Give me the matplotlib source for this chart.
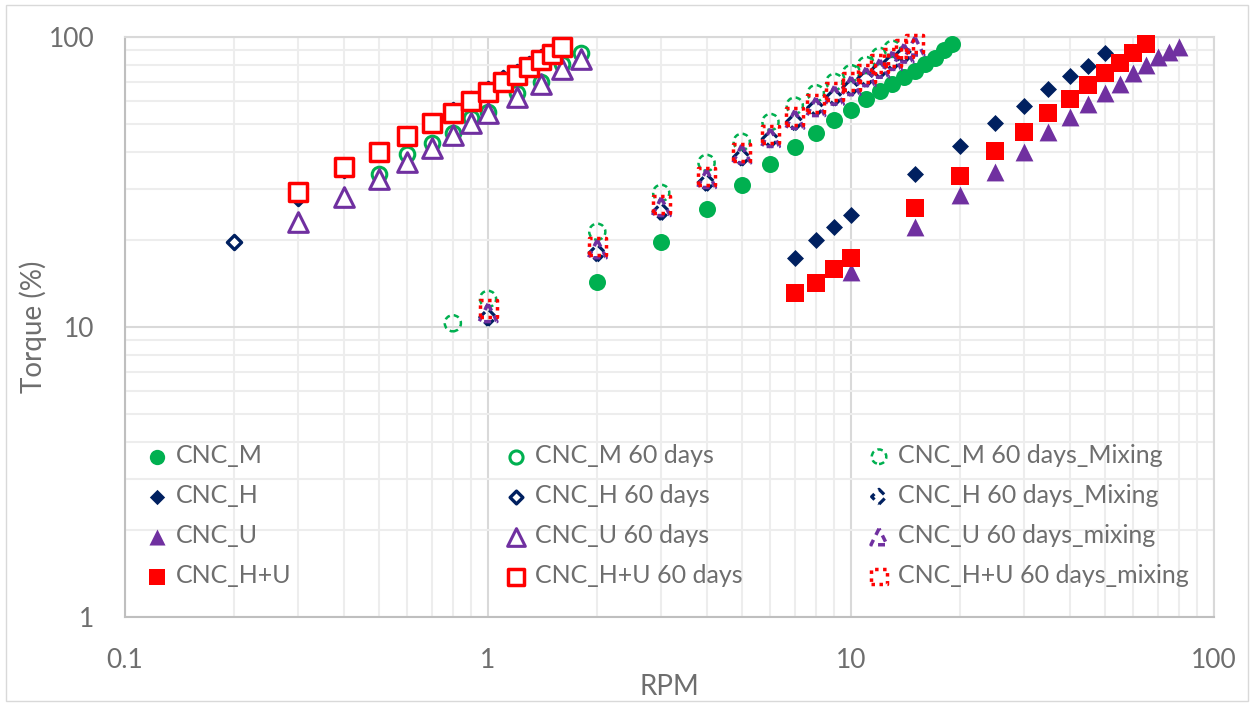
import matplotlib
matplotlib.use("Agg")
import matplotlib.pyplot as plt
from matplotlib.ticker import FixedLocator, FixedFormatter, LogLocator, NullFormatter
from matplotlib.patches import Rectangle

GREEN = "#00B050"
NAVY = "#002060"
PURPLE = "#7030A0"
RED = "#FF0000"
TEXT = "#6E6E6E"

# fresh samples
m_rpm = [2, 3, 4, 5, 6, 7, 8, 9, 10, 11, 12, 13, 14, 15, 16, 17, 18, 19]
m_torque = [14.3, 19.6, 25.5, 30.9, 36.5, 41.8, 46.7, 51.8, 56.0, 61.0, 65.1,
            68.9, 72.8, 76.3, 80.8, 84.7, 90.2, 94.6]

h_rpm = [7, 8, 9, 10, 15, 20, 25, 30, 35, 40, 45, 50]
h_torque = [17.3, 20.0, 22.1, 24.3, 33.7, 42.0, 50.5, 58.0, 66.0, 73.5, 79.5, 88.0]

u_rpm = [10, 15, 20, 25, 30, 35, 40, 45, 50, 55, 60, 65, 70, 75, 80]
u_torque = [15.5, 22.1, 28.5, 34.2, 40.1, 47.0, 53.0, 58.8, 64.1, 68.9, 75.2,
            80.0, 85.3, 88.8, 92.4]

hu_rpm = [7, 8, 9, 10, 15, 20, 25, 30, 35, 40, 45, 50, 55, 60, 65]
hu_torque = [13.1, 14.2, 15.8, 17.3, 25.7, 33.2, 40.4, 47.0, 54.7, 61.0, 68.2,
             75.2, 81.3, 88.0, 94.6]

# after 60 days of storage
m60_rpm = [0.5, 0.6, 0.7, 0.8, 0.9, 1.0, 1.2, 1.4, 1.6, 1.8]
m60_torque = [33.7, 39.5, 43.0, 46.7, 52.5, 55.0, 64.0, 70.0, 81.0, 88.0]

h60_rpm = [0.2, 0.3, 0.4, 0.5, 0.6, 0.7, 0.8, 0.9, 1.0, 1.1, 1.2, 1.3, 1.4, 1.5]
h60_torque = [19.6, 27.9, 34.8, 39.8, 45.0, 50.5, 56.0, 61.0, 66.0, 72.0, 76.0,
              81.0, 85.0, 89.0]

u60_rpm = [0.3, 0.4, 0.5, 0.6, 0.7, 0.8, 0.9, 1.0, 1.2, 1.4, 1.6, 1.8]
u60_torque = [23.0, 28.0, 32.4, 37.0, 41.4, 45.9, 50.5, 54.7, 62.0, 69.0, 77.6, 84.0]

hu60_rpm = [0.3, 0.4, 0.5, 0.6, 0.7, 0.8, 0.9, 1.0, 1.1, 1.2, 1.3, 1.4, 1.5, 1.6]
hu60_torque = [29.3, 35.6, 40.1, 45.6, 50.5, 54.7, 60.2, 64.6, 70.0, 74.0, 79.0,
               83.0, 87.4, 92.4]

# after 60 days, re-mixed
mmix_rpm = [0.8, 1, 2, 3, 4, 5, 6, 7, 8, 9, 10, 11, 12, 13]
mmix_torque = [10.3, 12.5, 21.3, 29.0, 36.8, 43.5, 50.9, 58.0, 64.0, 70.0, 75.0,
               80.0, 86.0, 91.0]

hmix_rpm = [1, 2, 3, 4, 5, 6, 7, 8, 9, 10, 11, 12, 13, 14]
hmix_torque = [10.8, 18.0, 25.0, 31.5, 38.5, 44.5, 51.0, 57.0, 62.0, 67.0, 72.0,
               77.0, 82.0, 87.0]

umix_rpm = [1, 2, 3, 4, 5, 6, 7, 8, 9, 10, 11, 12, 13, 14, 15]
umix_torque = [11.2, 18.6, 26.0, 32.5, 39.5, 45.0, 52.0, 57.5, 63.0, 68.0, 73.0,
               78.0, 83.0, 88.0, 93.0]

humix_rpm = [1, 2, 3, 4, 5, 6, 7, 8, 9, 10, 11, 12, 13, 14, 15]
humix_torque = [11.6, 19.0, 26.5, 33.0, 40.0, 46.0, 53.0, 59.0, 65.0, 70.0, 75.0,
                81.0, 85.0, 91.0, 95.0]

x_ticks = [0.1, 1, 10, 100]
x_tick_labels = ["0.1", "1", "10", "100"]
y_ticks = [1, 10, 100]
y_tick_labels = ["1", "10", "100"]

plt.rcParams.update({"font.family": ["Lato", "DejaVu Sans"]})

fig = plt.figure(figsize=(12.54, 7.07), dpi=100)
ax = fig.add_axes([0.0997, 0.1273, 0.8684, 0.8204])

fig.add_artist(Rectangle((0.005, 0.008), 0.99, 0.985, transform=fig.transFigure,
                         fill=False, edgecolor="#D9D9D9", linewidth=1.0))

ax.set_xscale("log")
ax.set_yscale("log")
ax.set_xlim(0.1, 100)
ax.set_ylim(1, 100)

series = [
    # label, x, y, marker, size, face, edge, lw, linestyle
    ("CNC_M", m_rpm, m_torque, "o", 150, GREEN, GREEN, 0, "solid"),
    ("CNC_H", h_rpm, h_torque, "D", 75, NAVY, NAVY, 0, "solid"),
    ("CNC_U", u_rpm, u_torque, "^", 165, PURPLE, PURPLE, 0, "solid"),
    ("CNC_H+U", hu_rpm, hu_torque, "s", 150, RED, RED, 0, "solid"),
    ("CNC_M 60 days", m60_rpm, m60_torque, "o", 110, "white", GREEN, 2.2, "solid"),
    ("CNC_H 60 days", h60_rpm, h60_torque, "D", 52, "white", NAVY, 2.4, "solid"),
    ("CNC_U 60 days", u60_rpm, u60_torque, "^", 200, "white", PURPLE, 2.2, "solid"),
    ("CNC_H+U 60 days", hu60_rpm, hu60_torque, "s", 175, "white", RED, 2.5, "solid"),
    ("CNC_M 60 days_Mixing", mmix_rpm, mmix_torque, "o", 135, "none", GREEN, 1.8,
     (0, (2.2, 1.6))),
    ("CNC_H 60 days_Mixing", hmix_rpm, hmix_torque, "D", 70, "none", NAVY, 2.3,
     (0, (2.5, 1.8))),
    ("CNC_U 60 days_mixing", umix_rpm, umix_torque, "^", 165, "none", PURPLE, 2.5,
     (0, (2.0, 1.6))),
    ("CNC_H+U 60 days_mixing", humix_rpm, humix_torque, "s", 150, "none", RED, 2.5,
     (0, (1.0, 1.3))),
]

handles = []
for z, (label, xs, ys, mk, size, face, edge, lw, ls) in enumerate(series):
    h = ax.scatter(xs, ys, s=size, marker=mk, facecolors=face, edgecolors=edge,
                   linewidths=lw, linestyles=ls, label=label, zorder=3 + z * 0.1,
                   clip_on=False)
    handles.append(h)

ax.xaxis.set_major_locator(FixedLocator(x_ticks))
ax.xaxis.set_major_formatter(FixedFormatter(x_tick_labels))
ax.yaxis.set_major_locator(FixedLocator(y_ticks))
ax.yaxis.set_major_formatter(FixedFormatter(y_tick_labels))
for axis in (ax.xaxis, ax.yaxis):
    axis.set_minor_locator(LogLocator(base=10, subs=range(2, 10)))
    axis.set_minor_formatter(NullFormatter())

ax.grid(which="major", color="#D9D9D9", linewidth=1.5, zorder=0)
ax.grid(which="minor", color="#EDEDED", linewidth=1.5, zorder=0)
ax.set_axisbelow(True)

ax.tick_params(which="both", length=0)
ax.tick_params(axis="x", labelsize=19, labelcolor=TEXT, pad=22)
ax.tick_params(axis="y", labelsize=19, labelcolor=TEXT, pad=22)

for side, spine in ax.spines.items():
    spine.set_color("#BFBFBF" if side in ("left", "bottom") else "#D9D9D9")
    spine.set_linewidth(1.5)

ax.set_xlabel("RPM", fontsize=20, color=TEXT, labelpad=1)
ax.set_ylabel("Torque (%)", fontsize=20, color=TEXT, labelpad=1)

# three one-column legends laid out as a 3 x 4 block
legend_x = [0.003, 0.333, 0.666]
for col in range(3):
    leg = ax.legend(handles=handles[col * 4:(col + 1) * 4], loc="upper left",
                    bbox_to_anchor=(legend_x[col], 0.315), frameon=False,
                    fontsize=18, labelcolor=TEXT, handletextpad=0.0,
                    handlelength=1.5, labelspacing=0.68, markerscale=0.9,
                    borderaxespad=0.0)
    if col < 2:
        ax.add_artist(leg)

fig.savefig("out.png", dpi=100)
